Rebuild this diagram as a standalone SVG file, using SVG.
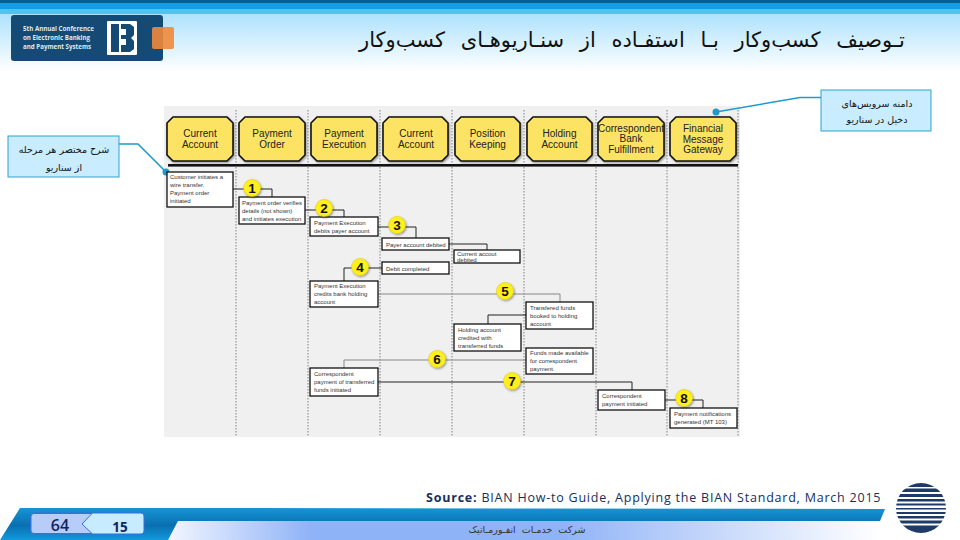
<svg xmlns="http://www.w3.org/2000/svg" width="960" height="540" viewBox="0 0 960 540">
<style>
.ar{font-family:"DejaVu Sans",sans-serif;direction:rtl;text-anchor:middle;fill:#111}
.hd{font-family:"Liberation Sans",Arial,sans-serif;font-size:10px;text-anchor:middle;fill:#222}
.bt{font-family:"Liberation Sans",Arial,sans-serif;font-size:6px;fill:#333}
.oct{fill:#fde363;stroke:#111;stroke-width:1.6;filter:url(#sh)}
.box{fill:#fff;stroke:#111;stroke-width:1.3}
.lane{stroke:#666;stroke-width:.8;stroke-dasharray:1.5 1.5;fill:none}
.c{fill:none;stroke:#222;stroke-width:1}
.g{fill:none;stroke:#888;stroke-width:1}
.bdg{fill:#ffef1e;stroke:#d8c800;stroke-width:.5;filter:url(#sh)}
.n{font-family:"Liberation Sans",Arial,sans-serif;font-weight:700;font-size:13.5px;text-anchor:middle;fill:#111}
.call{fill:#c9ecff;stroke:#2ea3cc;stroke-width:1}
.cl{fill:none;stroke:#1f9bcb;stroke-width:1.6}
.dot{fill:#1f9bcb}
.st{fill:#1e3a66}
</style>
<defs>
<linearGradient id="hg" x1="0" y1="0" x2="0" y2="1"><stop offset="0" stop-color="#aee2fd"/><stop offset="1" stop-color="#fff"/></linearGradient>
<linearGradient id="f1" x1="0" y1="0" x2="1" y2="0"><stop offset="0" stop-color="#f2f6ff"/><stop offset=".2" stop-color="#8fb3f7"/><stop offset=".55" stop-color="#8fb3f7"/><stop offset="1" stop-color="#fff"/></linearGradient>
<linearGradient id="f2" x1="0" y1="0" x2="0" y2="1"><stop offset="0" stop-color="#1595d6"/><stop offset=".55" stop-color="#0a6fb0"/><stop offset="1" stop-color="#119ade"/></linearGradient>
<filter id="sh" x="-20%" y="-20%" width="150%" height="150%"><feDropShadow dx="1" dy="1.2" stdDeviation="1" flood-color="#000" flood-opacity=".4"/></filter>
</defs>

<rect width="960" height="540" fill="#fff"/>
<g id="header-band">
<rect y="14" width="960" height="58" fill="url(#hg)"/>
<rect width="960" height="3" fill="#04618f"/>
<rect y="3" width="960" height="6" fill="#0f9fe2"/>
<rect y="9" width="960" height="5" fill="#55c2ee"/>
</g>
<g id="logo">
<rect x="11" y="15" width="152" height="46" rx="3" fill="#154a74"/>
<rect x="152" y="27" width="22" height="22" rx="2" fill="#f08a3c" opacity=".9"/>
<text font-family="'Open Sans',sans-serif" font-weight="700" font-size="6.200" fill="#dfeaf2"><tspan x="23" y="31">5th Annual Conference</tspan><tspan x="23" y="40">on Electronic Banking</tspan><tspan x="23" y="49">and Payment Systems</tspan></text>
<rect x="107" y="21" width="30" height="34" rx="1" fill="#fff"/>
<path d="M111 24h8v28h-8zM121 24h9l4 3v8l-3 3 3 3v8l-4 3h-9v-7h5v-6h-5v-4h5v-6h-5z" fill="#154a74"/>
</g>
<text id="title" class="ar" x="632" y="47" font-size="21" word-spacing="9" letter-spacing="1.6">تـوصیف کسب‌وکار بـا استفـاده از سنـاریوهـای کسب‌وکار</text>

<g id="diagram-bg"><rect x="164" y="106" width="576" height="331" fill="#f0f0f0"/></g>
<g id="lanes">
<path class="lane" d="M236 110V436M308 110V436M380 110V436M452 110V436M524 110V436M596 110V436M667 110V436M738 110V436"/>
<rect x="168" y="164" width="570" height="2.600" fill="#111"/>
</g>

<g id="hdr-1"><polygon class="oct" points="173,117 227,117 233,123 233,155 227,161 173,161 167,155 167,123"/><text class="hd" x="200" y="137">Current</text><text class="hd" x="200" y="148">Account</text></g>
<g id="hdr-2"><polygon class="oct" points="245,117 299,117 305,123 305,155 299,161 245,161 239,155 239,123"/><text class="hd" x="272" y="137">Payment</text><text class="hd" x="272" y="148">Order</text></g>
<g id="hdr-3"><polygon class="oct" points="317,117 371,117 377,123 377,155 371,161 317,161 311,155 311,123"/><text class="hd" x="344" y="137">Payment</text><text class="hd" x="344" y="148">Execution</text></g>
<g id="hdr-4"><polygon class="oct" points="389,117 442,117 448,123 448,155 442,161 389,161 383,155 383,123"/><text class="hd" x="416" y="137">Current</text><text class="hd" x="416" y="148">Account</text></g>
<g id="hdr-5"><polygon class="oct" points="461,117 514,117 520,123 520,155 514,161 461,161 455,155 455,123"/><text class="hd" x="487.500" y="137">Position</text><text class="hd" x="487.500" y="148">Keeping</text></g>
<g id="hdr-6"><polygon class="oct" points="533,117 586,117 592,123 592,155 586,161 533,161 527,155 527,123"/><text class="hd" x="559.500" y="137">Holding</text><text class="hd" x="559.500" y="148">Account</text></g>
<g id="hdr-7"><polygon class="oct" points="604,117 658,117 664,123 664,155 658,161 604,161 598,155 598,123"/><text class="hd" x="631" y="132">Correspondent</text><text class="hd" x="631" y="142">Bank</text><text class="hd" x="631" y="153">Fulfillment</text></g>
<g id="hdr-8"><polygon class="oct" points="676,117 730,117 736,123 736,155 730,161 676,161 670,155 670,123"/><text class="hd" x="703" y="132">Financial</text><text class="hd" x="703" y="143">Message</text><text class="hd" x="703" y="153">Gateway</text></g>

<g id="connectors">
<path class="c" d="M233 189H272V197"/>
<path class="c" d="M305 210H344V217"/>
<path class="c" d="M378 227H416V238"/>
<path class="c" d="M449 244H487V250"/>
<path class="c" d="M449 268H344V281"/>
<path class="g" d="M378 294H560V302"/>
<path class="c" d="M526 315H488V324"/>
<path class="g" d="M526 360H344V368"/>
<path class="c" d="M378 382H632V390"/>
<path class="c" d="M665 400H703V408"/>
<path class="cl" d="M119 144H138L166 172"/>
<circle class="dot" cx="166" cy="172" r="3.500"/>
<path class="cl" d="M821 97.500H800L716 112"/>
<circle class="dot" cx="716" cy="112" r="3.500"/>
</g>

<g id="box-a"><rect class="box" x="167" y="172" width="66" height="35"/><text class="bt"><tspan x="170" y="179">Customer initiates a</tspan><tspan x="170" y="187">wire transfer.</tspan><tspan x="170" y="195">Payment order</tspan><tspan x="170" y="203">initiated</tspan></text></g>
<g id="box-b"><rect class="box" x="239" y="197" width="66" height="27"/><text class="bt"><tspan x="242" y="205">Payment order verifies</tspan><tspan x="242" y="213">details (not shown)</tspan><tspan x="242" y="221">and initiates execution</tspan></text></g>
<g id="box-c"><rect class="box" x="310" y="217" width="68" height="19"/><text class="bt"><tspan x="314" y="225">Payment Execution</tspan><tspan x="314" y="233">debits payer account</tspan></text></g>
<g id="box-d"><rect class="box" x="382" y="238" width="67" height="12"/><text class="bt"><tspan x="386" y="246.500">Payer account debited</tspan></text></g>
<g id="box-e"><rect class="box" x="454" y="250" width="66" height="13"/><text class="bt"><tspan x="457" y="256">Current accout</tspan><tspan x="457" y="262">debited</tspan></text></g>
<g id="box-f"><rect class="box" x="382" y="262" width="67" height="12"/><text class="bt"><tspan x="386" y="270.500">Debit completed</tspan></text></g>
<g id="box-g"><rect class="box" x="310" y="281" width="68" height="26"/><text class="bt"><tspan x="314" y="288">Payment Execution</tspan><tspan x="314" y="296">credits bank holding</tspan><tspan x="314" y="304">account</tspan></text></g>
<g id="box-h"><rect class="box" x="526" y="302" width="67" height="27"/><text class="bt"><tspan x="530" y="310">Transfered funds</tspan><tspan x="530" y="318">booked to holding</tspan><tspan x="530" y="326">account</tspan></text></g>
<g id="box-i"><rect class="box" x="454" y="324" width="67" height="27"/><text class="bt"><tspan x="458" y="332">Holding account</tspan><tspan x="458" y="340">credited with</tspan><tspan x="458" y="348">transferred funds</tspan></text></g>
<g id="box-j"><rect class="box" x="526" y="348" width="67" height="26"/><text class="bt"><tspan x="530" y="355">Funds made available</tspan><tspan x="530" y="363">for correspondent</tspan><tspan x="530" y="371">payment.</tspan></text></g>
<g id="box-k"><rect class="box" x="310" y="368" width="68" height="28"/><text class="bt"><tspan x="314" y="376">Correspondent</tspan><tspan x="314" y="384">payment of transferred</tspan><tspan x="314" y="392">funds initiated</tspan></text></g>
<g id="box-l"><rect class="box" x="598" y="390" width="67" height="20"/><text class="bt"><tspan x="602" y="398">Correspondent</tspan><tspan x="602" y="406">payment initiated</tspan></text></g>
<g id="box-m"><rect class="box" x="670" y="408" width="67" height="20"/><text class="bt"><tspan x="674" y="416">Payment notifications</tspan><tspan x="674" y="424">generated (MT 103)</tspan></text></g>

<g id="badge-1"><circle class="bdg" cx="252" cy="188" r="8.500"/><text class="n" x="252" y="193">1</text></g>
<g id="badge-2"><circle class="bdg" cx="324" cy="208" r="8.500"/><text class="n" x="324" y="213">2</text></g>
<g id="badge-3"><circle class="bdg" cx="397" cy="225" r="8.500"/><text class="n" x="397" y="230">3</text></g>
<g id="badge-4"><circle class="bdg" cx="360" cy="267" r="8.500"/><text class="n" x="360" y="272">4</text></g>
<g id="badge-5"><circle class="bdg" cx="505" cy="291" r="8.500"/><text class="n" x="505" y="296">5</text></g>
<g id="badge-6"><circle class="bdg" cx="437" cy="359" r="8.500"/><text class="n" x="437" y="364">6</text></g>
<g id="badge-7"><circle class="bdg" cx="512" cy="381" r="8.500"/><text class="n" x="512" y="386">7</text></g>
<g id="badge-8"><circle class="bdg" cx="684" cy="398" r="8.500"/><text class="n" x="684" y="403">8</text></g>

<g id="callout-left"><rect class="call" x="8" y="136" width="111" height="41"/><text class="ar" x="64" y="153" font-size="9.500">شرح مختصر هر مرحله</text><text class="ar" x="64" y="171" font-size="9.500">از سناریو</text></g>
<g id="callout-right"><rect class="call" x="821" y="90" width="110" height="41"/><text class="ar" x="877" y="107" font-size="9.500">دامنه سرویس‌های</text><text class="ar" x="877" y="123" font-size="9.500">دخیل در سناریو</text></g>

<text id="source" x="426" y="502" font-family="'Open Sans',sans-serif" font-size="12.500" letter-spacing=".78" fill="#14305e"><tspan font-weight="700">Source:</tspan> BIAN How-to Guide, Applying the BIAN Standard, March 2015</text>

<g id="footer">
<polygon points="178,521 880,521 880,540 168,540" fill="url(#f1)"/>
<polygon points="0,540 20,508 187,508 885,509 880,521 178,521 168,540" fill="url(#f2)"/>
<rect x="31" y="513" width="113" height="21" rx="3" fill="#c8ecff" stroke="#3a6fe0" stroke-width="1"/>
<path d="M34 513.500H92L82 524L92 533.500H34a3 3 0 0 1-3-3V516.500a3 3 0 0 1 3-3z" fill="#b8ccfa" stroke="#3a6fe0" stroke-width="1"/>
<text x="60" y="531" font-family="'Open Sans',sans-serif" font-weight="600" font-size="16" text-anchor="middle" fill="#12265c">64</text>
<text x="120" y="532" font-family="'Open Sans',sans-serif" font-weight="700" font-size="13.500" text-anchor="middle" fill="#12265c">15</text>
<text class="ar" x="527" y="533" font-size="9.500" style="fill:#333" word-spacing="3">شرکت خدمـات انفـورمـاتیک</text>
</g>
<g id="globe">
<circle cx="921" cy="508" r="25" fill="#fff"/>
<clipPath id="gc"><circle cx="921" cy="508" r="25"/></clipPath>
<g clip-path="url(#gc)">
<rect class="st" x="895" y="483" width="52" height="4"/><rect class="st" x="895" y="488.500" width="52" height="3.500"/><rect class="st" x="895" y="494" width="52" height="3"/><rect class="st" x="895" y="499" width="52" height="2.500"/><rect class="st" x="895" y="503.500" width="52" height="2"/><rect class="st" x="895" y="508" width="52" height="1.500"/><rect class="st" x="895" y="512" width="52" height="2"/><rect class="st" x="895" y="516" width="52" height="2.500"/><rect class="st" x="895" y="520.500" width="52" height="3"/><rect class="st" x="895" y="525.500" width="52" height="7.500"/>
</g>
</g>
</svg>
